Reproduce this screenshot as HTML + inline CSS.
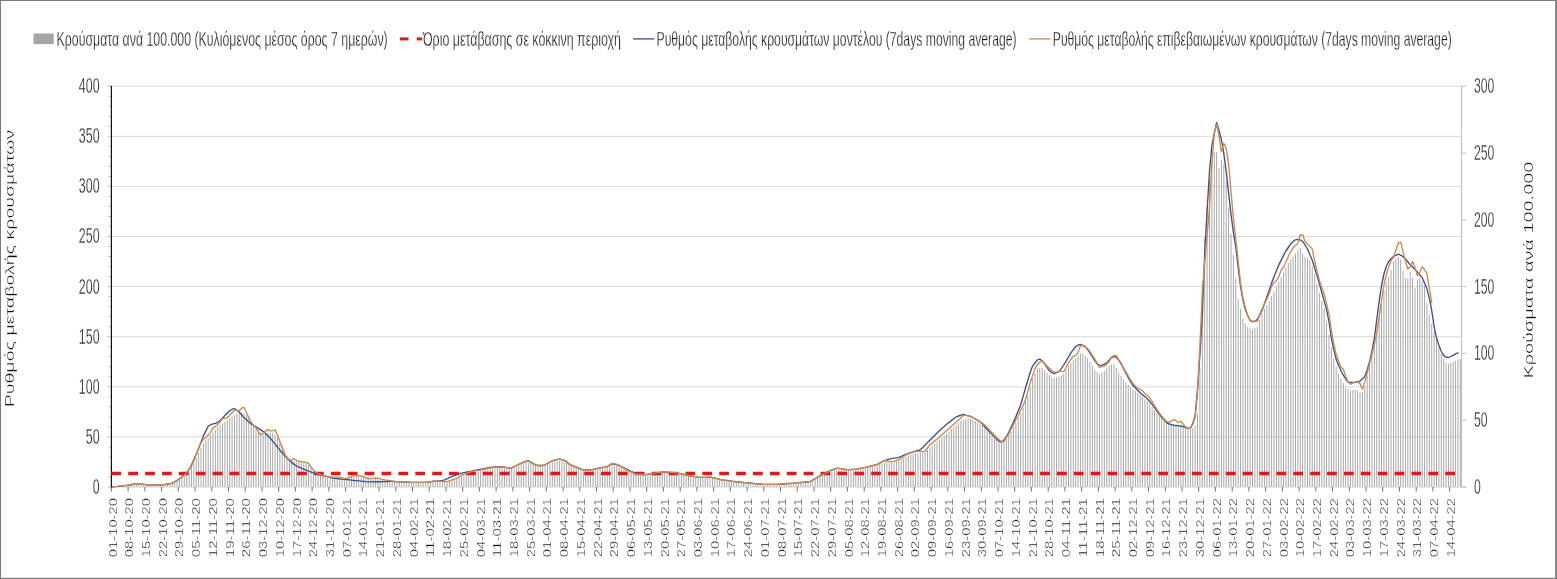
<!DOCTYPE html>
<html lang="el"><head><meta charset="utf-8"><title>Chart</title>
<style>html,body{margin:0;padding:0;background:#fff;}body{width:1557px;height:579px;overflow:hidden;}svg{display:block;}</style>
</head><body>
<svg width="1557" height="579" viewBox="0 0 1557 579" font-family='"Liberation Sans Narrow","Liberation Sans",sans-serif'>
<rect x="0" y="0" width="1557" height="579" fill="#fff"/>
<line x1="111.4" x2="1461.5" y1="436.9" y2="436.9" stroke="#d9d9d9" stroke-width="1"/>
<line x1="111.4" x2="1461.5" y1="386.8" y2="386.8" stroke="#d9d9d9" stroke-width="1"/>
<line x1="111.4" x2="1461.5" y1="336.7" y2="336.7" stroke="#d9d9d9" stroke-width="1"/>
<line x1="111.4" x2="1461.5" y1="286.6" y2="286.6" stroke="#d9d9d9" stroke-width="1"/>
<line x1="111.4" x2="1461.5" y1="236.5" y2="236.5" stroke="#d9d9d9" stroke-width="1"/>
<line x1="111.4" x2="1461.5" y1="186.4" y2="186.4" stroke="#d9d9d9" stroke-width="1"/>
<line x1="111.4" x2="1461.5" y1="136.3" y2="136.3" stroke="#d9d9d9" stroke-width="1"/>
<line x1="111.4" x2="1461.5" y1="86.2" y2="86.2" stroke="#d9d9d9" stroke-width="1"/>
<path d="M114.50,487V486.7h0.96V487zM116.89,487V486.5h0.96V487zM119.28,487V486.2h0.96V487zM121.67,487V486.0h0.96V487zM124.06,487V485.7h0.96V487zM126.45,487V485.4h0.96V487zM128.84,487V485.1h0.96V487zM131.23,487V484.8h0.96V487zM133.62,487V484.4h0.96V487zM136.01,487V484.2h0.96V487zM138.40,487V484.1h0.96V487zM140.79,487V484.2h0.96V487zM143.18,487V484.4h0.96V487zM145.57,487V484.6h0.96V487zM147.96,487V484.8h0.96V487zM150.35,487V484.9h0.96V487zM152.74,487V485.0h0.96V487zM155.13,487V485.0h0.96V487zM157.52,487V485.0h0.96V487zM159.91,487V484.9h0.96V487zM162.30,487V484.8h0.96V487zM164.69,487V484.6h0.96V487zM167.08,487V484.3h0.96V487zM169.47,487V483.8h0.96V487zM171.86,487V483.1h0.96V487zM174.25,487V482.2h0.96V487zM176.64,487V481.0h0.96V487zM179.03,487V479.6h0.96V487zM181.42,487V478.0h0.96V487zM183.81,487V476.0h0.96V487zM186.20,487V473.7h0.96V487zM188.59,487V470.8h0.96V487zM190.98,487V467.1h0.96V487zM193.37,487V462.7h0.96V487zM195.75,487V457.8h0.96V487zM198.14,487V452.5h0.96V487zM200.53,487V447.7h0.96V487zM202.92,487V443.7h0.96V487zM205.31,487V440.3h0.96V487zM207.70,487V437.4h0.96V487zM210.09,487V434.8h0.96V487zM212.48,487V432.4h0.96V487zM214.87,487V429.9h0.96V487zM217.26,487V427.2h0.96V487zM219.65,487V425.0h0.96V487zM222.04,487V423.4h0.96V487zM224.43,487V421.6h0.96V487zM226.82,487V419.9h0.96V487zM229.21,487V418.2h0.96V487zM231.60,487V416.6h0.96V487zM233.99,487V415.2h0.96V487zM236.38,487V413.8h0.96V487zM238.77,487V412.4h0.96V487zM241.16,487V412.3h0.96V487zM243.55,487V413.2h0.96V487zM245.94,487V415.0h0.96V487zM248.33,487V417.9h0.96V487zM250.72,487V421.8h0.96V487zM253.11,487V425.6h0.96V487zM255.50,487V429.1h0.96V487zM257.89,487V431.6h0.96V487zM260.28,487V433.1h0.96V487zM262.67,487V433.7h0.96V487zM265.06,487V433.7h0.96V487zM267.45,487V433.3h0.96V487zM269.84,487V432.7h0.96V487zM272.23,487V432.9h0.96V487zM274.62,487V434.7h0.96V487zM277.01,487V437.5h0.96V487zM279.39,487V441.4h0.96V487zM281.78,487V446.6h0.96V487zM284.17,487V451.6h0.96V487zM286.56,487V455.8h0.96V487zM288.95,487V458.5h0.96V487zM291.34,487V460.0h0.96V487zM293.73,487V460.8h0.96V487zM296.12,487V461.3h0.96V487zM298.51,487V461.6h0.96V487zM300.90,487V462.1h0.96V487zM303.29,487V462.8h0.96V487zM305.68,487V463.6h0.96V487zM308.07,487V465.0h0.96V487zM310.46,487V466.9h0.96V487zM312.85,487V469.0h0.96V487zM315.24,487V471.2h0.96V487zM317.63,487V473.1h0.96V487zM320.02,487V474.5h0.96V487zM322.41,487V475.4h0.96V487zM324.80,487V476.1h0.96V487zM327.19,487V476.6h0.96V487zM329.58,487V477.0h0.96V487zM331.97,487V477.2h0.96V487zM334.36,487V477.4h0.96V487zM336.75,487V477.5h0.96V487zM339.14,487V477.7h0.96V487zM341.53,487V477.9h0.96V487zM343.92,487V478.0h0.96V487zM346.31,487V478.0h0.96V487zM348.70,487V477.7h0.96V487zM351.09,487V477.2h0.96V487zM353.48,487V476.6h0.96V487zM355.87,487V476.3h0.96V487zM358.26,487V476.2h0.96V487zM360.65,487V476.4h0.96V487zM363.03,487V477.0h0.96V487zM365.42,487V477.5h0.96V487zM367.81,487V478.0h0.96V487zM370.20,487V478.3h0.96V487zM372.59,487V478.4h0.96V487zM374.98,487V478.5h0.96V487zM377.37,487V478.6h0.96V487zM379.76,487V478.9h0.96V487zM382.15,487V479.3h0.96V487zM384.54,487V479.8h0.96V487zM386.93,487V480.3h0.96V487zM389.32,487V480.7h0.96V487zM391.71,487V481.0h0.96V487zM394.10,487V481.4h0.96V487zM396.49,487V481.6h0.96V487zM398.88,487V481.9h0.96V487zM401.27,487V482.0h0.96V487zM403.66,487V482.1h0.96V487zM406.05,487V482.2h0.96V487zM408.44,487V482.3h0.96V487zM410.83,487V482.4h0.96V487zM413.22,487V482.5h0.96V487zM415.61,487V482.5h0.96V487zM418.00,487V482.6h0.96V487zM420.39,487V482.6h0.96V487zM422.78,487V482.5h0.96V487zM425.17,487V482.4h0.96V487zM427.56,487V482.2h0.96V487zM429.95,487V481.9h0.96V487zM432.34,487V481.6h0.96V487zM434.73,487V481.4h0.96V487zM437.12,487V481.3h0.96V487zM439.51,487V481.4h0.96V487zM441.90,487V481.5h0.96V487zM444.29,487V481.5h0.96V487zM446.67,487V481.4h0.96V487zM449.06,487V481.0h0.96V487zM451.45,487V480.5h0.96V487zM453.84,487V479.7h0.96V487zM456.23,487V478.7h0.96V487zM458.62,487V477.6h0.96V487zM461.01,487V476.5h0.96V487zM463.40,487V475.3h0.96V487zM465.79,487V474.3h0.96V487zM468.18,487V473.3h0.96V487zM470.57,487V472.6h0.96V487zM472.96,487V472.0h0.96V487zM475.35,487V471.5h0.96V487zM477.74,487V471.1h0.96V487zM480.13,487V470.7h0.96V487zM482.52,487V470.3h0.96V487zM484.91,487V469.9h0.96V487zM487.30,487V469.4h0.96V487zM489.69,487V468.9h0.96V487zM492.08,487V468.5h0.96V487zM494.47,487V468.2h0.96V487zM496.86,487V468.0h0.96V487zM499.25,487V467.8h0.96V487zM501.64,487V467.9h0.96V487zM504.03,487V468.0h0.96V487zM506.42,487V468.3h0.96V487zM508.81,487V468.3h0.96V487zM511.20,487V468.1h0.96V487zM513.59,487V467.6h0.96V487zM515.98,487V466.7h0.96V487zM518.37,487V465.6h0.96V487zM520.76,487V464.5h0.96V487zM523.15,487V463.5h0.96V487zM525.54,487V462.9h0.96V487zM527.93,487V462.7h0.96V487zM530.31,487V463.0h0.96V487zM532.70,487V463.8h0.96V487zM535.09,487V464.7h0.96V487zM537.48,487V465.5h0.96V487zM539.87,487V466.0h0.96V487zM542.26,487V465.9h0.96V487zM544.65,487V465.4h0.96V487zM547.04,487V464.6h0.96V487zM549.43,487V463.6h0.96V487zM551.82,487V462.5h0.96V487zM554.21,487V461.6h0.96V487zM556.60,487V461.0h0.96V487zM558.99,487V460.7h0.96V487zM561.38,487V460.8h0.96V487zM563.77,487V461.4h0.96V487zM566.16,487V462.5h0.96V487zM568.55,487V463.7h0.96V487zM570.94,487V465.0h0.96V487zM573.33,487V466.3h0.96V487zM575.72,487V467.4h0.96V487zM578.11,487V468.3h0.96V487zM580.50,487V469.1h0.96V487zM582.89,487V469.7h0.96V487zM585.28,487V470.2h0.96V487zM587.67,487V470.4h0.96V487zM590.06,487V470.2h0.96V487zM592.45,487V470.0h0.96V487zM594.84,487V469.7h0.96V487zM597.23,487V469.3h0.96V487zM599.62,487V468.8h0.96V487zM602.01,487V468.4h0.96V487zM604.40,487V467.8h0.96V487zM606.79,487V467.0h0.96V487zM609.18,487V466.2h0.96V487zM611.57,487V465.6h0.96V487zM613.95,487V465.2h0.96V487zM616.34,487V465.4h0.96V487zM618.73,487V466.1h0.96V487zM621.12,487V467.2h0.96V487zM623.51,487V468.5h0.96V487zM625.90,487V469.8h0.96V487zM628.29,487V471.0h0.96V487zM630.68,487V472.2h0.96V487zM633.07,487V473.1h0.96V487zM635.46,487V473.9h0.96V487zM637.85,487V474.4h0.96V487zM640.24,487V474.7h0.96V487zM642.63,487V474.8h0.96V487zM645.02,487V474.8h0.96V487zM647.41,487V474.7h0.96V487zM649.80,487V474.5h0.96V487zM652.19,487V474.1h0.96V487zM654.58,487V473.7h0.96V487zM656.97,487V473.4h0.96V487zM659.36,487V473.0h0.96V487zM661.75,487V472.7h0.96V487zM664.14,487V472.6h0.96V487zM666.53,487V472.5h0.96V487zM668.92,487V472.6h0.96V487zM671.31,487V472.8h0.96V487zM673.70,487V473.1h0.96V487zM676.09,487V473.4h0.96V487zM678.48,487V473.8h0.96V487zM680.87,487V474.2h0.96V487zM683.26,487V474.7h0.96V487zM685.65,487V475.2h0.96V487zM688.04,487V475.7h0.96V487zM690.43,487V476.2h0.96V487zM692.82,487V476.6h0.96V487zM695.21,487V476.9h0.96V487zM697.59,487V477.2h0.96V487zM699.98,487V477.4h0.96V487zM702.37,487V477.6h0.96V487zM704.76,487V477.6h0.96V487zM707.15,487V477.6h0.96V487zM709.54,487V477.7h0.96V487zM711.93,487V477.9h0.96V487zM714.32,487V478.3h0.96V487zM716.71,487V478.8h0.96V487zM719.10,487V479.3h0.96V487zM721.49,487V479.8h0.96V487zM723.88,487V480.2h0.96V487zM726.27,487V480.6h0.96V487zM728.66,487V481.0h0.96V487zM731.05,487V481.4h0.96V487zM733.44,487V481.7h0.96V487zM735.83,487V481.9h0.96V487zM738.22,487V482.2h0.96V487zM740.61,487V482.4h0.96V487zM743.00,487V482.6h0.96V487zM745.39,487V482.8h0.96V487zM747.78,487V483.0h0.96V487zM750.17,487V483.2h0.96V487zM752.56,487V483.4h0.96V487zM754.95,487V483.6h0.96V487zM757.34,487V483.8h0.96V487zM759.73,487V484.0h0.96V487zM762.12,487V484.2h0.96V487zM764.51,487V484.3h0.96V487zM766.90,487V484.3h0.96V487zM769.29,487V484.4h0.96V487zM771.68,487V484.4h0.96V487zM774.07,487V484.4h0.96V487zM776.46,487V484.3h0.96V487zM778.85,487V484.2h0.96V487zM781.23,487V484.1h0.96V487zM783.62,487V484.0h0.96V487zM786.01,487V483.9h0.96V487zM788.40,487V483.7h0.96V487zM790.79,487V483.5h0.96V487zM793.18,487V483.3h0.96V487zM795.57,487V483.1h0.96V487zM797.96,487V482.9h0.96V487zM800.35,487V482.7h0.96V487zM802.74,487V482.5h0.96V487zM805.13,487V482.3h0.96V487zM807.52,487V481.9h0.96V487zM809.91,487V481.3h0.96V487zM812.30,487V480.4h0.96V487zM814.69,487V479.4h0.96V487zM817.08,487V478.1h0.96V487zM819.47,487V476.8h0.96V487zM821.86,487V475.6h0.96V487zM824.25,487V474.4h0.96V487zM826.64,487V473.3h0.96V487zM829.03,487V472.2h0.96V487zM831.42,487V471.2h0.96V487zM833.81,487V470.3h0.96V487zM836.20,487V469.8h0.96V487zM838.59,487V469.5h0.96V487zM840.98,487V469.4h0.96V487zM843.37,487V469.6h0.96V487zM845.76,487V469.8h0.96V487zM848.15,487V470.0h0.96V487zM850.54,487V470.0h0.96V487zM852.93,487V470.0h0.96V487zM855.32,487V469.8h0.96V487zM857.71,487V469.5h0.96V487zM860.10,487V469.2h0.96V487zM862.49,487V468.7h0.96V487zM864.87,487V468.2h0.96V487zM867.26,487V467.7h0.96V487zM869.65,487V467.1h0.96V487zM872.04,487V466.6h0.96V487zM874.43,487V465.9h0.96V487zM876.82,487V465.1h0.96V487zM879.21,487V464.2h0.96V487zM881.60,487V463.4h0.96V487zM883.99,487V462.7h0.96V487zM886.38,487V462.3h0.96V487zM888.77,487V462.2h0.96V487zM891.16,487V462.1h0.96V487zM893.55,487V461.9h0.96V487zM895.94,487V461.5h0.96V487zM898.33,487V460.7h0.96V487zM900.72,487V459.5h0.96V487zM903.11,487V458.2h0.96V487zM905.50,487V456.9h0.96V487zM907.89,487V455.6h0.96V487zM910.28,487V454.5h0.96V487zM912.67,487V453.7h0.96V487zM915.06,487V453.2h0.96V487zM917.45,487V452.8h0.96V487zM919.84,487V452.6h0.96V487zM922.23,487V452.2h0.96V487zM924.62,487V451.2h0.96V487zM927.01,487V449.7h0.96V487zM929.40,487V447.9h0.96V487zM931.79,487V445.7h0.96V487zM934.18,487V443.5h0.96V487zM936.57,487V441.5h0.96V487zM938.96,487V439.6h0.96V487zM941.35,487V437.6h0.96V487zM943.74,487V435.5h0.96V487zM946.13,487V433.4h0.96V487zM948.51,487V431.4h0.96V487zM950.90,487V429.3h0.96V487zM953.29,487V427.2h0.96V487zM955.68,487V425.2h0.96V487zM958.07,487V423.1h0.96V487zM960.46,487V421.1h0.96V487zM962.85,487V419.7h0.96V487zM965.24,487V418.8h0.96V487zM967.63,487V418.5h0.96V487zM970.02,487V419.0h0.96V487zM972.41,487V419.8h0.96V487zM974.80,487V420.9h0.96V487zM977.19,487V422.2h0.96V487zM979.58,487V423.6h0.96V487zM981.97,487V425.1h0.96V487zM984.36,487V426.9h0.96V487zM986.75,487V428.9h0.96V487zM989.14,487V431.1h0.96V487zM991.53,487V433.5h0.96V487zM993.92,487V435.9h0.96V487zM996.31,487V438.3h0.96V487zM998.70,487V440.3h0.96V487zM1001.09,487V441.3h0.96V487zM1003.48,487V440.4h0.96V487zM1005.87,487V437.9h0.96V487zM1008.26,487V434.8h0.96V487zM1010.65,487V432.1h0.96V487zM1013.04,487V427.3h0.96V487zM1015.43,487V422.5h0.96V487zM1017.82,487V417.7h0.96V487zM1020.21,487V413.0h0.96V487zM1022.60,487V407.2h0.96V487zM1024.99,487V401.5h0.96V487zM1027.38,487V395.5h0.96V487zM1029.77,487V387.2h0.96V487zM1032.15,487V378.8h0.96V487zM1034.54,487V373.2h0.96V487zM1036.93,487V368.6h0.96V487zM1039.32,487V367.9h0.96V487zM1041.71,487V368.0h0.96V487zM1044.10,487V370.4h0.96V487zM1046.49,487V372.8h0.96V487zM1048.88,487V375.2h0.96V487zM1051.27,487V377.6h0.96V487zM1053.66,487V377.9h0.96V487zM1056.05,487V377.3h0.96V487zM1058.44,487V376.5h0.96V487zM1060.83,487V375.3h0.96V487zM1063.22,487V374.0h0.96V487zM1065.61,487V369.8h0.96V487zM1068.00,487V365.6h0.96V487zM1070.39,487V362.7h0.96V487zM1072.78,487V360.4h0.96V487zM1075.17,487V358.0h0.96V487zM1077.56,487V355.6h0.96V487zM1079.95,487V353.5h0.96V487zM1082.34,487V353.5h0.96V487zM1084.73,487V355.8h0.96V487zM1087.12,487V358.2h0.96V487zM1089.51,487V361.8h0.96V487zM1091.90,487V365.9h0.96V487zM1094.29,487V369.5h0.96V487zM1096.68,487V371.9h0.96V487zM1099.07,487V374.2h0.96V487zM1101.46,487V372.4h0.96V487zM1103.85,487V370.6h0.96V487zM1106.24,487V368.3h0.96V487zM1108.63,487V366.0h0.96V487zM1111.02,487V364.5h0.96V487zM1113.41,487V364.5h0.96V487zM1115.79,487V367.7h0.96V487zM1118.18,487V372.5h0.96V487zM1120.57,487V376.0h0.96V487zM1122.96,487V379.3h0.96V487zM1125.35,487V382.3h0.96V487zM1127.74,487V385.0h0.96V487zM1130.13,487V387.5h0.96V487zM1132.52,487V389.4h0.96V487zM1134.91,487V391.3h0.96V487zM1137.30,487V393.3h0.96V487zM1139.69,487V395.2h0.96V487zM1142.08,487V397.2h0.96V487zM1144.47,487V399.2h0.96V487zM1146.86,487V401.5h0.96V487zM1149.25,487V404.3h0.96V487zM1151.64,487V407.1h0.96V487zM1154.03,487V409.9h0.96V487zM1156.42,487V412.7h0.96V487zM1158.81,487V415.4h0.96V487zM1161.20,487V418.2h0.96V487zM1163.59,487V420.4h0.96V487zM1165.98,487V421.7h0.96V487zM1168.37,487V423.1h0.96V487zM1170.76,487V424.5h0.96V487zM1173.15,487V424.7h0.96V487zM1175.54,487V424.8h0.96V487zM1177.93,487V425.0h0.96V487zM1180.32,487V425.5h0.96V487zM1182.71,487V426.5h0.96V487zM1185.10,487V427.4h0.96V487zM1187.49,487V428.4h0.96V487zM1189.88,487V428.8h0.96V487zM1192.27,487V427.9h0.96V487zM1194.66,487V425.8h0.96V487zM1197.05,487V413.3h0.96V487zM1199.43,487V368.5h0.96V487zM1201.82,487V280.9h0.96V487zM1204.21,487V237.7h0.96V487zM1206.60,487V206.0h0.96V487zM1208.99,487V178.1h0.96V487zM1211.38,487V161.4h0.96V487zM1213.77,487V151.7h0.96V487zM1216.16,487V152.1h0.96V487zM1218.55,487V168.2h0.96V487zM1220.94,487V160.2h0.96V487zM1223.33,487V164.7h0.96V487zM1225.72,487V181.1h0.96V487zM1228.11,487V207.2h0.96V487zM1230.50,487V233.7h0.96V487zM1232.89,487V254.9h0.96V487zM1235.28,487V278.3h0.96V487zM1237.67,487V299.3h0.96V487zM1240.06,487V309.1h0.96V487zM1242.45,487V318.6h0.96V487zM1244.84,487V323.3h0.96V487zM1247.23,487V327.0h0.96V487zM1249.62,487V328.5h0.96V487zM1252.01,487V329.4h0.96V487zM1254.40,487V328.0h0.96V487zM1256.79,487V326.7h0.96V487zM1259.18,487V320.1h0.96V487zM1261.57,487V313.3h0.96V487zM1263.96,487V308.8h0.96V487zM1266.35,487V304.9h0.96V487zM1268.74,487V300.9h0.96V487zM1271.13,487V296.1h0.96V487zM1273.52,487V291.3h0.96V487zM1275.91,487V286.6h0.96V487zM1278.30,487V281.8h0.96V487zM1280.69,487V277.1h0.96V487zM1283.07,487V272.2h0.96V487zM1285.46,487V267.4h0.96V487zM1287.85,487V263.1h0.96V487zM1290.24,487V259.9h0.96V487zM1292.63,487V256.7h0.96V487zM1295.02,487V253.2h0.96V487zM1297.41,487V249.8h0.96V487zM1299.80,487V248.0h0.96V487zM1302.19,487V253.2h0.96V487zM1304.58,487V256.7h0.96V487zM1306.97,487V258.3h0.96V487zM1309.36,487V260.0h0.96V487zM1311.75,487V266.2h0.96V487zM1314.14,487V273.6h0.96V487zM1316.53,487V283.3h0.96V487zM1318.92,487V293.0h0.96V487zM1321.31,487V300.7h0.96V487zM1323.70,487V308.3h0.96V487zM1326.09,487V321.4h0.96V487zM1328.48,487V334.4h0.96V487zM1330.87,487V347.0h0.96V487zM1333.26,487V358.7h0.96V487zM1335.65,487V366.4h0.96V487zM1338.04,487V374.0h0.96V487zM1340.43,487V378.5h0.96V487zM1342.82,487V382.9h0.96V487zM1345.21,487V387.4h0.96V487zM1347.60,487V389.1h0.96V487zM1349.99,487V390.4h0.96V487zM1352.38,487V390.0h0.96V487zM1354.77,487V389.5h0.96V487zM1357.16,487V390.7h0.96V487zM1359.55,487V392.6h0.96V487zM1361.94,487V391.7h0.96V487zM1364.33,487V386.6h0.96V487zM1366.71,487V375.7h0.96V487zM1369.10,487V364.4h0.96V487zM1371.49,487V352.6h0.96V487zM1373.88,487V341.5h0.96V487zM1376.27,487V330.6h0.96V487zM1378.66,487V316.9h0.96V487zM1381.05,487V303.7h0.96V487zM1383.44,487V290.8h0.96V487zM1385.83,487V282.0h0.96V487zM1388.22,487V276.4h0.96V487zM1390.61,487V269.8h0.96V487zM1393.00,487V261.2h0.96V487zM1395.39,487V258.1h0.96V487zM1397.78,487V256.8h0.96V487zM1400.17,487V259.4h0.96V487zM1402.56,487V271.0h0.96V487zM1404.95,487V278.0h0.96V487zM1407.34,487V278.2h0.96V487zM1409.73,487V272.1h0.96V487zM1412.12,487V278.0h0.96V487zM1414.51,487V288.2h0.96V487zM1416.90,487V279.8h0.96V487zM1419.29,487V277.8h0.96V487zM1421.68,487V281.2h0.96V487zM1424.07,487V285.4h0.96V487zM1426.46,487V303.1h0.96V487zM1428.85,487V314.7h0.96V487zM1431.24,487V324.1h0.96V487zM1433.63,487V331.2h0.96V487zM1436.02,487V338.7h0.96V487zM1438.41,487V347.1h0.96V487zM1440.80,487V354.0h0.96V487zM1443.19,487V359.1h0.96V487zM1445.58,487V362.7h0.96V487zM1447.97,487V364.0h0.96V487zM1450.35,487V362.8h0.96V487zM1452.74,487V361.6h0.96V487zM1455.13,487V360.4h0.96V487zM1457.52,487V359.3h0.96V487zM1459.91,487V359.0h0.96V487z" fill="#a5a5a5"/>
<line x1="111.4" x2="1466" y1="487.0" y2="487.0" stroke="#d0d0d0" stroke-width="1"/>
<line x1="107.4" x2="111.4" y1="487.0" y2="487.0" stroke="#bfbfbf" stroke-width="1"/>
<line x1="108.4" x2="111.4" y1="477.0" y2="477.0" stroke="#bfbfbf" stroke-width="1"/>
<line x1="108.4" x2="111.4" y1="467.0" y2="467.0" stroke="#bfbfbf" stroke-width="1"/>
<line x1="108.4" x2="111.4" y1="456.9" y2="456.9" stroke="#bfbfbf" stroke-width="1"/>
<line x1="108.4" x2="111.4" y1="446.9" y2="446.9" stroke="#bfbfbf" stroke-width="1"/>
<line x1="107.4" x2="111.4" y1="436.9" y2="436.9" stroke="#bfbfbf" stroke-width="1"/>
<line x1="108.4" x2="111.4" y1="426.9" y2="426.9" stroke="#bfbfbf" stroke-width="1"/>
<line x1="108.4" x2="111.4" y1="416.9" y2="416.9" stroke="#bfbfbf" stroke-width="1"/>
<line x1="108.4" x2="111.4" y1="406.8" y2="406.8" stroke="#bfbfbf" stroke-width="1"/>
<line x1="108.4" x2="111.4" y1="396.8" y2="396.8" stroke="#bfbfbf" stroke-width="1"/>
<line x1="107.4" x2="111.4" y1="386.8" y2="386.8" stroke="#bfbfbf" stroke-width="1"/>
<line x1="108.4" x2="111.4" y1="376.8" y2="376.8" stroke="#bfbfbf" stroke-width="1"/>
<line x1="108.4" x2="111.4" y1="366.8" y2="366.8" stroke="#bfbfbf" stroke-width="1"/>
<line x1="108.4" x2="111.4" y1="356.7" y2="356.7" stroke="#bfbfbf" stroke-width="1"/>
<line x1="108.4" x2="111.4" y1="346.7" y2="346.7" stroke="#bfbfbf" stroke-width="1"/>
<line x1="107.4" x2="111.4" y1="336.7" y2="336.7" stroke="#bfbfbf" stroke-width="1"/>
<line x1="108.4" x2="111.4" y1="326.7" y2="326.7" stroke="#bfbfbf" stroke-width="1"/>
<line x1="108.4" x2="111.4" y1="316.7" y2="316.7" stroke="#bfbfbf" stroke-width="1"/>
<line x1="108.4" x2="111.4" y1="306.6" y2="306.6" stroke="#bfbfbf" stroke-width="1"/>
<line x1="108.4" x2="111.4" y1="296.6" y2="296.6" stroke="#bfbfbf" stroke-width="1"/>
<line x1="107.4" x2="111.4" y1="286.6" y2="286.6" stroke="#bfbfbf" stroke-width="1"/>
<line x1="108.4" x2="111.4" y1="276.6" y2="276.6" stroke="#bfbfbf" stroke-width="1"/>
<line x1="108.4" x2="111.4" y1="266.6" y2="266.6" stroke="#bfbfbf" stroke-width="1"/>
<line x1="108.4" x2="111.4" y1="256.5" y2="256.5" stroke="#bfbfbf" stroke-width="1"/>
<line x1="108.4" x2="111.4" y1="246.5" y2="246.5" stroke="#bfbfbf" stroke-width="1"/>
<line x1="107.4" x2="111.4" y1="236.5" y2="236.5" stroke="#bfbfbf" stroke-width="1"/>
<line x1="108.4" x2="111.4" y1="226.5" y2="226.5" stroke="#bfbfbf" stroke-width="1"/>
<line x1="108.4" x2="111.4" y1="216.5" y2="216.5" stroke="#bfbfbf" stroke-width="1"/>
<line x1="108.4" x2="111.4" y1="206.4" y2="206.4" stroke="#bfbfbf" stroke-width="1"/>
<line x1="108.4" x2="111.4" y1="196.4" y2="196.4" stroke="#bfbfbf" stroke-width="1"/>
<line x1="107.4" x2="111.4" y1="186.4" y2="186.4" stroke="#bfbfbf" stroke-width="1"/>
<line x1="108.4" x2="111.4" y1="176.4" y2="176.4" stroke="#bfbfbf" stroke-width="1"/>
<line x1="108.4" x2="111.4" y1="166.4" y2="166.4" stroke="#bfbfbf" stroke-width="1"/>
<line x1="108.4" x2="111.4" y1="156.3" y2="156.3" stroke="#bfbfbf" stroke-width="1"/>
<line x1="108.4" x2="111.4" y1="146.3" y2="146.3" stroke="#bfbfbf" stroke-width="1"/>
<line x1="107.4" x2="111.4" y1="136.3" y2="136.3" stroke="#bfbfbf" stroke-width="1"/>
<line x1="108.4" x2="111.4" y1="126.3" y2="126.3" stroke="#bfbfbf" stroke-width="1"/>
<line x1="108.4" x2="111.4" y1="116.3" y2="116.3" stroke="#bfbfbf" stroke-width="1"/>
<line x1="108.4" x2="111.4" y1="106.2" y2="106.2" stroke="#bfbfbf" stroke-width="1"/>
<line x1="108.4" x2="111.4" y1="96.2" y2="96.2" stroke="#bfbfbf" stroke-width="1"/>
<line x1="107.4" x2="111.4" y1="86.2" y2="86.2" stroke="#bfbfbf" stroke-width="1"/>
<line x1="1461.5" x2="1461.5" y1="86.2" y2="487.0" stroke="#c4c4c4" stroke-width="1.2"/>
<line x1="1461.5" x2="1466.2" y1="487.0" y2="487.0" stroke="#c4c4c4" stroke-width="1"/>
<line x1="1461.5" x2="1466.2" y1="420.2" y2="420.2" stroke="#c4c4c4" stroke-width="1"/>
<line x1="1461.5" x2="1466.2" y1="353.4" y2="353.4" stroke="#c4c4c4" stroke-width="1"/>
<line x1="1461.5" x2="1466.2" y1="286.6" y2="286.6" stroke="#c4c4c4" stroke-width="1"/>
<line x1="1461.5" x2="1466.2" y1="219.8" y2="219.8" stroke="#c4c4c4" stroke-width="1"/>
<line x1="1461.5" x2="1466.2" y1="153.0" y2="153.0" stroke="#c4c4c4" stroke-width="1"/>
<line x1="1461.5" x2="1466.2" y1="86.2" y2="86.2" stroke="#c4c4c4" stroke-width="1"/>
<line x1="111.4" x2="111.4" y1="487.0" y2="491.5" stroke="#707070" stroke-width="1"/>
<line x1="128.1" x2="128.1" y1="487.0" y2="491.5" stroke="#707070" stroke-width="1"/>
<line x1="144.9" x2="144.9" y1="487.0" y2="491.5" stroke="#707070" stroke-width="1"/>
<line x1="161.6" x2="161.6" y1="487.0" y2="491.5" stroke="#707070" stroke-width="1"/>
<line x1="178.3" x2="178.3" y1="487.0" y2="491.5" stroke="#707070" stroke-width="1"/>
<line x1="195.0" x2="195.0" y1="487.0" y2="491.5" stroke="#707070" stroke-width="1"/>
<line x1="211.8" x2="211.8" y1="487.0" y2="491.5" stroke="#707070" stroke-width="1"/>
<line x1="228.5" x2="228.5" y1="487.0" y2="491.5" stroke="#707070" stroke-width="1"/>
<line x1="245.2" x2="245.2" y1="487.0" y2="491.5" stroke="#707070" stroke-width="1"/>
<line x1="262.0" x2="262.0" y1="487.0" y2="491.5" stroke="#707070" stroke-width="1"/>
<line x1="278.7" x2="278.7" y1="487.0" y2="491.5" stroke="#707070" stroke-width="1"/>
<line x1="295.4" x2="295.4" y1="487.0" y2="491.5" stroke="#707070" stroke-width="1"/>
<line x1="312.1" x2="312.1" y1="487.0" y2="491.5" stroke="#707070" stroke-width="1"/>
<line x1="328.9" x2="328.9" y1="487.0" y2="491.5" stroke="#707070" stroke-width="1"/>
<line x1="345.6" x2="345.6" y1="487.0" y2="491.5" stroke="#707070" stroke-width="1"/>
<line x1="362.3" x2="362.3" y1="487.0" y2="491.5" stroke="#707070" stroke-width="1"/>
<line x1="379.0" x2="379.0" y1="487.0" y2="491.5" stroke="#707070" stroke-width="1"/>
<line x1="395.8" x2="395.8" y1="487.0" y2="491.5" stroke="#707070" stroke-width="1"/>
<line x1="412.5" x2="412.5" y1="487.0" y2="491.5" stroke="#707070" stroke-width="1"/>
<line x1="429.2" x2="429.2" y1="487.0" y2="491.5" stroke="#707070" stroke-width="1"/>
<line x1="446.0" x2="446.0" y1="487.0" y2="491.5" stroke="#707070" stroke-width="1"/>
<line x1="462.7" x2="462.7" y1="487.0" y2="491.5" stroke="#707070" stroke-width="1"/>
<line x1="479.4" x2="479.4" y1="487.0" y2="491.5" stroke="#707070" stroke-width="1"/>
<line x1="496.1" x2="496.1" y1="487.0" y2="491.5" stroke="#707070" stroke-width="1"/>
<line x1="512.9" x2="512.9" y1="487.0" y2="491.5" stroke="#707070" stroke-width="1"/>
<line x1="529.6" x2="529.6" y1="487.0" y2="491.5" stroke="#707070" stroke-width="1"/>
<line x1="546.3" x2="546.3" y1="487.0" y2="491.5" stroke="#707070" stroke-width="1"/>
<line x1="563.1" x2="563.1" y1="487.0" y2="491.5" stroke="#707070" stroke-width="1"/>
<line x1="579.8" x2="579.8" y1="487.0" y2="491.5" stroke="#707070" stroke-width="1"/>
<line x1="596.5" x2="596.5" y1="487.0" y2="491.5" stroke="#707070" stroke-width="1"/>
<line x1="613.2" x2="613.2" y1="487.0" y2="491.5" stroke="#707070" stroke-width="1"/>
<line x1="630.0" x2="630.0" y1="487.0" y2="491.5" stroke="#707070" stroke-width="1"/>
<line x1="646.7" x2="646.7" y1="487.0" y2="491.5" stroke="#707070" stroke-width="1"/>
<line x1="663.4" x2="663.4" y1="487.0" y2="491.5" stroke="#707070" stroke-width="1"/>
<line x1="680.2" x2="680.2" y1="487.0" y2="491.5" stroke="#707070" stroke-width="1"/>
<line x1="696.9" x2="696.9" y1="487.0" y2="491.5" stroke="#707070" stroke-width="1"/>
<line x1="713.6" x2="713.6" y1="487.0" y2="491.5" stroke="#707070" stroke-width="1"/>
<line x1="730.3" x2="730.3" y1="487.0" y2="491.5" stroke="#707070" stroke-width="1"/>
<line x1="747.1" x2="747.1" y1="487.0" y2="491.5" stroke="#707070" stroke-width="1"/>
<line x1="763.8" x2="763.8" y1="487.0" y2="491.5" stroke="#707070" stroke-width="1"/>
<line x1="780.5" x2="780.5" y1="487.0" y2="491.5" stroke="#707070" stroke-width="1"/>
<line x1="797.2" x2="797.2" y1="487.0" y2="491.5" stroke="#707070" stroke-width="1"/>
<line x1="814.0" x2="814.0" y1="487.0" y2="491.5" stroke="#707070" stroke-width="1"/>
<line x1="830.7" x2="830.7" y1="487.0" y2="491.5" stroke="#707070" stroke-width="1"/>
<line x1="847.4" x2="847.4" y1="487.0" y2="491.5" stroke="#707070" stroke-width="1"/>
<line x1="864.2" x2="864.2" y1="487.0" y2="491.5" stroke="#707070" stroke-width="1"/>
<line x1="880.9" x2="880.9" y1="487.0" y2="491.5" stroke="#707070" stroke-width="1"/>
<line x1="897.6" x2="897.6" y1="487.0" y2="491.5" stroke="#707070" stroke-width="1"/>
<line x1="914.3" x2="914.3" y1="487.0" y2="491.5" stroke="#707070" stroke-width="1"/>
<line x1="931.1" x2="931.1" y1="487.0" y2="491.5" stroke="#707070" stroke-width="1"/>
<line x1="947.8" x2="947.8" y1="487.0" y2="491.5" stroke="#707070" stroke-width="1"/>
<line x1="964.5" x2="964.5" y1="487.0" y2="491.5" stroke="#707070" stroke-width="1"/>
<line x1="981.3" x2="981.3" y1="487.0" y2="491.5" stroke="#707070" stroke-width="1"/>
<line x1="998.0" x2="998.0" y1="487.0" y2="491.5" stroke="#707070" stroke-width="1"/>
<line x1="1014.7" x2="1014.7" y1="487.0" y2="491.5" stroke="#707070" stroke-width="1"/>
<line x1="1031.4" x2="1031.4" y1="487.0" y2="491.5" stroke="#707070" stroke-width="1"/>
<line x1="1048.2" x2="1048.2" y1="487.0" y2="491.5" stroke="#707070" stroke-width="1"/>
<line x1="1064.9" x2="1064.9" y1="487.0" y2="491.5" stroke="#707070" stroke-width="1"/>
<line x1="1081.6" x2="1081.6" y1="487.0" y2="491.5" stroke="#707070" stroke-width="1"/>
<line x1="1098.4" x2="1098.4" y1="487.0" y2="491.5" stroke="#707070" stroke-width="1"/>
<line x1="1115.1" x2="1115.1" y1="487.0" y2="491.5" stroke="#707070" stroke-width="1"/>
<line x1="1131.8" x2="1131.8" y1="487.0" y2="491.5" stroke="#707070" stroke-width="1"/>
<line x1="1148.5" x2="1148.5" y1="487.0" y2="491.5" stroke="#707070" stroke-width="1"/>
<line x1="1165.3" x2="1165.3" y1="487.0" y2="491.5" stroke="#707070" stroke-width="1"/>
<line x1="1182.0" x2="1182.0" y1="487.0" y2="491.5" stroke="#707070" stroke-width="1"/>
<line x1="1198.7" x2="1198.7" y1="487.0" y2="491.5" stroke="#707070" stroke-width="1"/>
<line x1="1215.4" x2="1215.4" y1="487.0" y2="491.5" stroke="#707070" stroke-width="1"/>
<line x1="1232.2" x2="1232.2" y1="487.0" y2="491.5" stroke="#707070" stroke-width="1"/>
<line x1="1248.9" x2="1248.9" y1="487.0" y2="491.5" stroke="#707070" stroke-width="1"/>
<line x1="1265.6" x2="1265.6" y1="487.0" y2="491.5" stroke="#707070" stroke-width="1"/>
<line x1="1282.4" x2="1282.4" y1="487.0" y2="491.5" stroke="#707070" stroke-width="1"/>
<line x1="1299.1" x2="1299.1" y1="487.0" y2="491.5" stroke="#707070" stroke-width="1"/>
<line x1="1315.8" x2="1315.8" y1="487.0" y2="491.5" stroke="#707070" stroke-width="1"/>
<line x1="1332.5" x2="1332.5" y1="487.0" y2="491.5" stroke="#707070" stroke-width="1"/>
<line x1="1349.3" x2="1349.3" y1="487.0" y2="491.5" stroke="#707070" stroke-width="1"/>
<line x1="1366.0" x2="1366.0" y1="487.0" y2="491.5" stroke="#707070" stroke-width="1"/>
<line x1="1382.7" x2="1382.7" y1="487.0" y2="491.5" stroke="#707070" stroke-width="1"/>
<line x1="1399.5" x2="1399.5" y1="487.0" y2="491.5" stroke="#707070" stroke-width="1"/>
<line x1="1416.2" x2="1416.2" y1="487.0" y2="491.5" stroke="#707070" stroke-width="1"/>
<line x1="1432.9" x2="1432.9" y1="487.0" y2="491.5" stroke="#707070" stroke-width="1"/>
<line x1="1449.6" x2="1449.6" y1="487.0" y2="491.5" stroke="#707070" stroke-width="1"/>
<line x1="111.4" x2="111.4" y1="85.7" y2="487.5" stroke="#111" stroke-width="1.2"/>
<line x1="111.4" x2="1455.2" y1="473.5" y2="473.5" stroke="#e0171d" stroke-width="3.5" stroke-dasharray="9.7 7.185"/>
<path d="M112.6,486.9 L115.0,486.6 L117.4,486.4 L119.8,486.1 L122.2,485.8 L124.5,485.6 L126.9,485.3 L129.3,485.0 L131.7,484.5 L134.1,484.1 L136.5,483.7 L138.9,483.8 L141.3,484.1 L143.7,484.4 L146.1,484.7 L148.4,484.9 L150.8,484.9 L153.2,484.9 L155.6,484.9 L158.0,484.9 L160.4,484.9 L162.8,484.8 L165.2,484.4 L167.6,484.0 L169.9,483.6 L172.3,483.2 L174.7,481.8 L177.1,480.4 L179.5,478.8 L181.9,476.7 L184.3,474.6 L186.7,472.4 L189.1,469.5 L191.5,464.7 L193.8,459.8 L196.2,454.3 L198.6,448.6 L201.0,442.2 L203.4,435.9 L205.8,431.1 L208.2,426.3 L210.6,424.8 L213.0,423.9 L215.4,423.4 L217.7,422.3 L220.1,420.5 L222.5,418.3 L224.9,415.5 L227.3,413.0 L229.7,410.8 L232.1,409.2 L234.5,408.6 L236.9,410.3 L239.2,412.1 L241.6,414.8 L244.0,417.6 L246.4,419.8 L248.8,421.9 L251.2,423.9 L253.6,425.4 L256.0,426.9 L258.4,428.4 L260.8,429.9 L263.1,431.3 L265.5,433.4 L267.9,435.8 L270.3,438.2 L272.7,441.1 L275.1,444.1 L277.5,447.1 L279.9,450.1 L282.3,453.0 L284.7,455.8 L287.0,458.2 L289.4,460.6 L291.8,462.6 L294.2,464.4 L296.6,466.2 L299.0,467.2 L301.4,468.2 L303.8,469.1 L306.2,470.1 L308.6,471.0 L310.9,472.0 L313.3,472.9 L315.7,473.7 L318.1,474.4 L320.5,475.1 L322.9,475.7 L325.3,476.1 L327.7,476.6 L330.1,477.2 L332.4,478.2 L334.8,478.4 L337.2,478.7 L339.6,479.0 L342.0,479.1 L344.4,479.3 L346.8,479.5 L349.2,479.8 L351.6,480.1 L354.0,480.5 L356.3,480.7 L358.7,480.9 L361.1,481.1 L363.5,481.3 L365.9,481.6 L368.3,481.8 L370.7,481.8 L373.1,481.7 L375.5,481.7 L377.9,481.7 L380.2,481.7 L382.6,481.6 L385.0,481.6 L387.4,481.5 L389.8,481.4 L392.2,481.4 L394.6,481.5 L397.0,481.7 L399.4,481.8 L401.8,481.9 L404.1,482.0 L406.5,482.1 L408.9,482.2 L411.3,482.3 L413.7,482.4 L416.1,482.4 L418.5,482.4 L420.9,482.4 L423.3,482.4 L425.6,482.4 L428.0,482.1 L430.4,481.8 L432.8,481.4 L435.2,481.1 L437.6,480.9 L440.0,480.6 L442.4,480.3 L444.8,479.8 L447.2,478.7 L449.5,477.6 L451.9,476.6 L454.3,475.6 L456.7,474.8 L459.1,474.0 L461.5,473.2 L463.9,472.6 L466.3,472.1 L468.7,471.6 L471.1,471.2 L473.4,470.7 L475.8,470.2 L478.2,469.7 L480.6,469.2 L483.0,468.8 L485.4,468.3 L487.8,467.9 L490.2,467.5 L492.6,467.1 L494.9,467.0 L497.3,467.0 L499.7,467.0 L502.1,467.0 L504.5,467.1 L506.9,467.7 L509.3,468.3 L511.7,467.9 L514.1,466.7 L516.5,465.5 L518.8,464.3 L521.2,463.3 L523.6,462.4 L526.0,461.5 L528.4,460.9 L530.8,462.2 L533.2,463.6 L535.6,464.9 L538.0,465.5 L540.4,465.5 L542.7,465.5 L545.1,464.9 L547.5,463.5 L549.9,462.1 L552.3,460.8 L554.7,460.2 L557.1,459.7 L559.5,459.2 L561.9,459.7 L564.3,460.4 L566.6,461.6 L569.0,463.9 L571.4,465.2 L573.8,466.1 L576.2,467.1 L578.6,468.1 L581.0,469.2 L583.4,469.8 L585.8,469.8 L588.1,469.8 L590.5,469.8 L592.9,469.5 L595.3,469.0 L597.7,468.4 L600.1,467.9 L602.5,467.5 L604.9,467.1 L607.3,466.5 L609.7,465.2 L612.0,463.9 L614.4,464.2 L616.8,464.6 L619.2,465.5 L621.6,466.7 L624.0,467.8 L626.4,469.0 L628.8,470.2 L631.2,471.4 L633.6,472.3 L635.9,473.2 L638.3,474.0 L640.7,474.2 L643.1,474.5 L645.5,474.7 L647.9,474.3 L650.3,473.9 L652.7,473.5 L655.1,473.1 L657.4,472.7 L659.8,472.5 L662.2,472.2 L664.6,471.9 L667.0,472.1 L669.4,472.4 L671.8,472.6 L674.2,472.8 L676.6,473.0 L679.0,473.4 L681.3,473.9 L683.7,474.5 L686.1,475.0 L688.5,475.5 L690.9,476.0 L693.3,476.4 L695.7,476.7 L698.1,477.1 L700.5,477.4 L702.9,477.4 L705.2,477.3 L707.6,477.3 L710.0,477.2 L712.4,477.7 L714.8,478.2 L717.2,478.7 L719.6,479.3 L722.0,479.8 L724.4,480.1 L726.8,480.4 L729.1,480.7 L731.5,481.1 L733.9,481.4 L736.3,481.7 L738.7,481.9 L741.1,482.2 L743.5,482.5 L745.9,482.7 L748.3,483.0 L750.6,483.2 L753.0,483.4 L755.4,483.6 L757.8,483.8 L760.2,484.0 L762.6,484.3 L765.0,484.3 L767.4,484.3 L769.8,484.3 L772.2,484.3 L774.5,484.3 L776.9,484.3 L779.3,484.2 L781.7,484.0 L784.1,483.8 L786.5,483.7 L788.9,483.5 L791.3,483.3 L793.7,483.2 L796.1,482.9 L798.4,482.7 L800.8,482.5 L803.2,482.3 L805.6,482.0 L808.0,481.8 L810.4,481.3 L812.8,479.9 L815.2,478.6 L817.6,477.2 L820.0,475.8 L822.3,474.6 L824.7,473.3 L827.1,472.0 L829.5,470.9 L831.9,470.0 L834.3,469.1 L836.7,468.3 L839.1,468.4 L841.5,468.7 L843.8,469.1 L846.2,469.5 L848.6,469.6 L851.0,469.5 L853.4,469.3 L855.8,469.2 L858.2,468.9 L860.6,468.4 L863.0,467.9 L865.4,467.4 L867.7,466.8 L870.1,466.2 L872.5,465.6 L874.9,465.0 L877.3,464.3 L879.7,463.1 L882.1,461.9 L884.5,460.7 L886.9,459.9 L889.3,459.2 L891.6,458.6 L894.0,458.2 L896.4,457.9 L898.8,457.4 L901.2,456.4 L903.6,455.3 L906.0,454.3 L908.4,453.5 L910.8,452.7 L913.1,452.0 L915.5,451.2 L917.9,450.5 L920.3,449.8 L922.7,447.4 L925.1,445.0 L927.5,442.6 L929.9,440.2 L932.3,437.8 L934.7,435.4 L937.0,433.1 L939.4,430.8 L941.8,428.6 L944.2,426.5 L946.6,424.3 L949.0,422.4 L951.4,420.5 L953.8,418.6 L956.2,416.8 L958.6,416.0 L960.9,415.2 L963.3,414.5 L965.7,415.2 L968.1,415.8 L970.5,416.5 L972.9,417.5 L975.3,419.0 L977.7,420.5 L980.1,422.0 L982.5,424.1 L984.8,426.7 L987.2,429.3 L989.6,431.9 L992.0,434.4 L994.4,436.9 L996.8,439.4 L999.2,441.1 L1001.6,442.0 L1004.0,440.1 L1006.3,436.5 L1008.7,432.6 L1011.1,427.4 L1013.5,422.1 L1015.9,416.6 L1018.3,410.7 L1020.7,404.7 L1023.1,396.4 L1025.5,388.0 L1027.9,380.0 L1030.2,372.3 L1032.6,366.1 L1035.0,362.9 L1037.4,359.8 L1039.8,359.1 L1042.2,361.1 L1044.6,363.7 L1047.0,367.3 L1049.4,370.9 L1051.8,372.5 L1054.1,373.6 L1056.5,372.6 L1058.9,371.6 L1061.3,368.6 L1063.7,365.0 L1066.1,361.1 L1068.5,357.0 L1070.9,352.9 L1073.3,349.7 L1075.6,346.5 L1078.0,345.2 L1080.4,344.5 L1082.8,345.4 L1085.2,346.4 L1087.6,349.5 L1090.0,353.1 L1092.4,356.8 L1094.8,360.6 L1097.2,363.9 L1099.5,365.2 L1101.9,365.4 L1104.3,364.2 L1106.7,362.8 L1109.1,360.2 L1111.5,357.5 L1113.9,356.6 L1116.3,357.2 L1118.7,360.0 L1121.1,363.5 L1123.4,368.3 L1125.8,373.0 L1128.2,377.3 L1130.6,381.6 L1133.0,385.6 L1135.4,388.0 L1137.8,390.4 L1140.2,392.8 L1142.6,394.9 L1145.0,396.8 L1147.3,398.7 L1149.7,401.5 L1152.1,404.4 L1154.5,407.6 L1156.9,410.9 L1159.3,414.3 L1161.7,417.2 L1164.1,419.9 L1166.5,422.6 L1168.8,423.9 L1171.2,424.5 L1173.6,425.2 L1176.0,425.5 L1178.4,425.8 L1180.8,426.0 L1183.2,426.5 L1185.6,427.3 L1188.0,428.2 L1190.4,428.3 L1192.7,423.6 L1195.1,415.7 L1197.5,389.0 L1199.9,355.0 L1202.3,316.3 L1204.7,252.8 L1207.1,210.7 L1209.5,171.2 L1211.9,145.6 L1214.3,133.4 L1216.6,122.5 L1219.0,130.4 L1221.4,139.5 L1223.8,153.3 L1226.2,171.7 L1228.6,192.6 L1231.0,214.3 L1233.4,232.3 L1235.8,247.1 L1238.2,267.9 L1240.5,286.2 L1242.9,299.9 L1245.3,309.3 L1247.7,315.5 L1250.1,320.4 L1252.5,321.9 L1254.9,321.2 L1257.3,319.4 L1259.7,315.3 L1262.0,310.5 L1264.4,303.8 L1266.8,297.1 L1269.2,290.1 L1271.6,283.1 L1274.0,276.6 L1276.4,270.8 L1278.8,264.9 L1281.2,260.1 L1283.6,255.4 L1285.9,251.0 L1288.3,247.5 L1290.7,243.9 L1293.1,241.5 L1295.5,239.8 L1297.9,239.3 L1300.3,240.0 L1302.7,241.5 L1305.1,245.1 L1307.5,249.0 L1309.8,254.5 L1312.2,260.0 L1314.6,267.7 L1317.0,275.4 L1319.4,283.9 L1321.8,292.6 L1324.2,301.1 L1326.6,309.6 L1329.0,321.8 L1331.3,337.7 L1333.7,349.3 L1336.1,359.1 L1338.5,365.2 L1340.9,370.5 L1343.3,375.2 L1345.7,379.0 L1348.1,382.2 L1350.5,382.4 L1352.9,382.5 L1355.2,382.3 L1357.6,381.7 L1360.0,381.1 L1362.4,378.9 L1364.8,376.6 L1367.2,369.8 L1369.6,361.6 L1372.0,350.8 L1374.4,337.9 L1376.8,319.4 L1379.1,301.8 L1381.5,286.0 L1383.9,274.0 L1386.3,266.2 L1388.7,261.5 L1391.1,258.6 L1393.5,256.5 L1395.9,255.3 L1398.3,254.2 L1400.7,255.2 L1403.0,256.6 L1405.4,258.9 L1407.8,261.8 L1410.2,264.6 L1412.6,267.0 L1415.0,269.4 L1417.4,272.0 L1419.8,274.9 L1422.2,277.7 L1424.5,282.7 L1426.9,288.6 L1429.3,298.1 L1431.7,310.3 L1434.1,326.7 L1436.5,337.9 L1438.9,345.2 L1441.3,351.5 L1443.7,355.4 L1446.1,357.3 L1448.4,357.5 L1450.8,356.5 L1453.2,355.3 L1455.6,353.9 L1458.0,352.8" fill="none" stroke="#3a528f" stroke-width="1.35" stroke-linejoin="round" stroke-linecap="round"/>
<path d="M112.6,486.9 L115.0,486.6 L117.4,486.4 L119.8,486.1 L122.2,485.8 L124.5,485.6 L126.9,485.3 L129.3,485.0 L131.7,484.5 L134.1,484.1 L136.5,483.7 L138.9,483.8 L141.3,484.1 L143.7,484.4 L146.1,484.7 L148.4,484.9 L150.8,484.9 L153.2,484.9 L155.6,484.9 L158.0,484.9 L160.4,484.9 L162.8,484.8 L165.2,484.4 L167.6,484.0 L169.9,483.6 L172.3,483.2 L174.7,481.8 L177.1,480.4 L179.5,478.9 L181.9,477.1 L184.3,475.3 L186.7,472.7 L189.1,469.4 L191.5,466.1 L193.8,460.6 L196.2,454.6 L198.6,448.6 L201.0,442.7 L203.4,439.4 L205.8,437.3 L208.2,435.1 L210.6,432.4 L213.0,428.2 L215.4,426.4 L217.7,424.8 L220.1,421.8 L222.5,418.7 L224.9,418.4 L227.3,417.8 L229.7,415.4 L232.1,412.8 L234.5,409.8 L236.9,410.7 L239.2,410.7 L241.6,408.2 L244.0,407.2 L246.4,412.3 L248.8,417.5 L251.2,422.4 L253.6,425.2 L256.0,428.0 L258.4,431.4 L260.8,434.9 L263.1,432.9 L265.5,430.9 L267.9,429.7 L270.3,430.9 L272.7,430.9 L275.1,429.8 L277.5,435.3 L279.9,441.2 L282.3,447.7 L284.7,454.5 L287.0,457.9 L289.4,459.9 L291.8,459.9 L294.2,458.7 L296.6,460.2 L299.0,461.5 L301.4,461.7 L303.8,461.9 L306.2,462.5 L308.6,463.4 L310.9,466.7 L313.3,469.9 L315.7,472.5 L318.1,473.5 L320.5,474.6 L322.9,475.6 L325.3,476.1 L327.7,476.5 L330.1,476.9 L332.4,477.2 L334.8,477.1 L337.2,477.1 L339.6,477.0 L342.0,477.6 L344.4,478.3 L346.8,478.1 L349.2,477.3 L351.6,476.5 L354.0,475.7 L356.3,475.3 L358.7,475.7 L361.1,476.0 L363.5,476.7 L365.9,477.6 L368.3,478.5 L370.7,478.3 L373.1,478.1 L375.5,477.9 L377.9,478.2 L380.2,478.7 L382.6,479.3 L385.0,479.8 L387.4,480.2 L389.8,480.6 L392.2,481.0 L394.6,481.4 L397.0,481.7 L399.4,481.8 L401.8,481.9 L404.1,482.0 L406.5,482.1 L408.9,482.2 L411.3,482.3 L413.7,482.4 L416.1,482.4 L418.5,482.4 L420.9,482.4 L423.3,482.4 L425.6,482.4 L428.0,482.0 L430.4,481.6 L432.8,481.2 L435.2,480.9 L437.6,481.0 L440.0,481.2 L442.4,481.3 L444.8,481.5 L447.2,481.6 L449.5,480.8 L451.9,480.0 L454.3,479.2 L456.7,478.4 L459.1,476.9 L461.5,475.4 L463.9,474.2 L466.3,473.3 L468.7,472.5 L471.1,471.6 L473.4,471.1 L475.8,470.7 L478.2,470.4 L480.6,470.1 L483.0,469.7 L485.4,469.1 L487.8,468.6 L490.2,468.0 L492.6,467.5 L494.9,467.3 L497.3,467.2 L499.7,467.1 L502.1,467.1 L504.5,467.1 L506.9,467.7 L509.3,468.3 L511.7,467.9 L514.1,466.7 L516.5,465.5 L518.8,464.3 L521.2,463.2 L523.6,462.2 L526.0,461.2 L528.4,460.6 L530.8,462.0 L533.2,463.4 L535.6,464.9 L538.0,465.5 L540.4,465.5 L542.7,465.5 L545.1,464.9 L547.5,463.5 L549.9,462.1 L552.3,460.7 L554.7,460.2 L557.1,459.6 L559.5,459.0 L561.9,459.6 L564.3,460.4 L566.6,461.6 L569.0,463.9 L571.4,465.2 L573.8,466.0 L576.2,466.9 L578.6,468.0 L581.0,469.1 L583.4,469.8 L585.8,469.8 L588.1,469.8 L590.5,469.8 L592.9,469.5 L595.3,469.0 L597.7,468.4 L600.1,467.9 L602.5,467.5 L604.9,467.1 L607.3,466.5 L609.7,464.9 L612.0,463.4 L614.4,463.7 L616.8,464.4 L619.2,465.5 L621.6,467.0 L624.0,468.4 L626.4,469.8 L628.8,470.9 L631.2,472.1 L633.6,473.3 L635.9,474.0 L638.3,474.2 L640.7,474.4 L643.1,474.5 L645.5,474.7 L647.9,474.3 L650.3,473.9 L652.7,473.5 L655.1,473.1 L657.4,472.7 L659.8,472.3 L662.2,472.0 L664.6,471.6 L667.0,471.9 L669.4,472.2 L671.8,472.4 L674.2,472.7 L676.6,473.0 L679.0,473.4 L681.3,473.9 L683.7,474.5 L686.1,475.0 L688.5,475.5 L690.9,476.0 L693.3,476.4 L695.7,476.7 L698.1,477.1 L700.5,477.4 L702.9,477.4 L705.2,477.3 L707.6,477.1 L710.0,477.0 L712.4,477.5 L714.8,478.1 L717.2,478.7 L719.6,479.3 L722.0,479.8 L724.4,480.2 L726.8,480.6 L729.1,480.9 L731.5,481.3 L733.9,481.7 L736.3,481.9 L738.7,482.1 L741.1,482.3 L743.5,482.5 L745.9,482.7 L748.3,483.0 L750.6,483.2 L753.0,483.4 L755.4,483.6 L757.8,483.8 L760.2,484.0 L762.6,484.3 L765.0,484.3 L767.4,484.3 L769.8,484.3 L772.2,484.3 L774.5,484.3 L776.9,484.3 L779.3,484.2 L781.7,484.0 L784.1,483.8 L786.5,483.7 L788.9,483.5 L791.3,483.3 L793.7,483.2 L796.1,482.9 L798.4,482.7 L800.8,482.5 L803.2,482.3 L805.6,482.0 L808.0,481.8 L810.4,481.3 L812.8,479.9 L815.2,478.6 L817.6,477.2 L820.0,475.9 L822.3,474.7 L824.7,473.5 L827.1,472.3 L829.5,471.2 L831.9,470.2 L834.3,469.2 L836.7,468.3 L839.1,468.4 L841.5,468.7 L843.8,469.1 L846.2,469.5 L848.6,469.6 L851.0,469.5 L853.4,469.3 L855.8,469.2 L858.2,468.9 L860.6,468.4 L863.0,467.9 L865.4,467.4 L867.7,466.8 L870.1,466.2 L872.5,465.6 L874.9,465.0 L877.3,464.3 L879.7,463.1 L882.1,461.9 L884.5,460.7 L886.9,461.0 L889.3,461.4 L891.6,461.7 L894.0,461.3 L896.4,460.4 L898.8,459.6 L901.2,458.3 L903.6,456.7 L906.0,455.0 L908.4,453.5 L910.8,452.8 L913.1,452.1 L915.5,451.3 L917.9,451.3 L920.3,451.3 L922.7,451.3 L925.1,451.2 L927.5,448.0 L929.9,444.9 L932.3,443.0 L934.7,441.1 L937.0,439.2 L939.4,437.1 L941.8,434.9 L944.2,432.8 L946.6,430.6 L949.0,428.5 L951.4,426.3 L953.8,424.2 L956.2,422.1 L958.6,420.0 L960.9,417.7 L963.3,415.3 L965.7,415.2 L968.1,415.8 L970.5,416.5 L972.9,417.7 L975.3,418.9 L977.7,420.1 L980.1,421.7 L982.5,423.4 L984.8,425.1 L987.2,427.4 L989.6,430.0 L992.0,432.6 L994.4,435.2 L996.8,437.6 L999.2,439.9 L1001.6,441.7 L1004.0,441.1 L1006.3,437.7 L1008.7,434.1 L1011.1,429.3 L1013.5,424.5 L1015.9,419.8 L1018.3,415.0 L1020.7,410.2 L1023.1,405.4 L1025.5,399.8 L1027.9,391.4 L1030.2,383.0 L1032.6,375.8 L1035.0,368.6 L1037.4,364.4 L1039.8,362.0 L1042.2,361.1 L1044.6,363.5 L1047.0,365.9 L1049.4,368.3 L1051.8,370.5 L1054.1,372.1 L1056.5,372.2 L1058.9,371.1 L1061.3,371.4 L1063.7,371.7 L1066.1,367.3 L1068.5,362.9 L1070.9,359.4 L1073.3,356.2 L1075.6,355.4 L1078.0,352.9 L1080.4,345.9 L1082.8,345.7 L1085.2,346.8 L1087.6,348.7 L1090.0,351.7 L1092.4,355.3 L1094.8,359.1 L1097.2,363.2 L1099.5,367.3 L1101.9,366.7 L1104.3,366.1 L1106.7,364.2 L1109.1,361.8 L1111.5,357.1 L1113.9,355.6 L1116.3,355.3 L1118.7,360.1 L1121.1,364.4 L1123.4,368.0 L1125.8,371.6 L1128.2,375.8 L1130.6,380.0 L1133.0,383.3 L1135.4,386.3 L1137.8,388.4 L1140.2,389.2 L1142.6,391.0 L1145.0,393.4 L1147.3,395.6 L1149.7,397.8 L1152.1,401.3 L1154.5,405.6 L1156.9,409.2 L1159.3,412.8 L1161.7,416.0 L1164.1,419.0 L1166.5,421.4 L1168.8,422.2 L1171.2,421.4 L1173.6,419.4 L1176.0,420.7 L1178.4,422.5 L1180.8,421.3 L1183.2,424.1 L1185.6,426.9 L1188.0,427.8 L1190.4,428.5 L1192.7,424.7 L1195.1,417.8 L1197.5,393.2 L1199.9,345.9 L1202.3,292.7 L1204.7,262.6 L1207.1,235.6 L1209.5,207.4 L1211.9,162.7 L1214.3,133.4 L1216.6,124.2 L1219.0,135.4 L1221.4,151.9 L1223.8,143.4 L1226.2,148.5 L1228.6,164.3 L1231.0,191.3 L1233.4,218.4 L1235.8,239.0 L1238.2,261.4 L1240.5,282.6 L1242.9,298.0 L1245.3,307.4 L1247.7,315.4 L1250.1,320.2 L1252.5,321.4 L1254.9,320.9 L1257.3,321.4 L1259.7,314.6 L1262.0,308.9 L1264.4,304.1 L1266.8,299.3 L1269.2,293.4 L1271.6,286.8 L1274.0,282.3 L1276.4,280.5 L1278.8,276.9 L1281.2,269.7 L1283.6,267.2 L1285.9,262.3 L1288.3,256.2 L1290.7,252.0 L1293.1,247.8 L1295.5,245.5 L1297.9,243.3 L1300.3,234.7 L1302.7,234.8 L1305.1,241.7 L1307.5,244.0 L1309.8,246.4 L1312.2,248.9 L1314.6,260.5 L1317.0,270.9 L1319.4,280.6 L1321.8,287.4 L1324.2,294.1 L1326.6,303.9 L1329.0,314.6 L1331.3,330.2 L1333.7,343.4 L1336.1,354.0 L1338.5,361.1 L1340.9,367.0 L1343.3,369.3 L1345.7,376.3 L1348.1,381.9 L1350.5,384.4 L1352.9,382.9 L1355.2,382.1 L1357.6,381.9 L1360.0,383.6 L1362.4,389.1 L1364.8,382.2 L1367.2,373.0 L1369.6,363.5 L1372.0,353.9 L1374.4,344.3 L1376.8,332.4 L1379.1,317.3 L1381.5,300.5 L1383.9,285.5 L1386.3,274.6 L1388.7,266.8 L1391.1,260.7 L1393.5,257.2 L1395.9,250.2 L1398.3,242.8 L1400.7,242.2 L1403.0,251.4 L1405.4,260.8 L1407.8,269.0 L1410.2,266.7 L1412.6,261.5 L1415.0,267.7 L1417.4,275.5 L1419.8,272.1 L1422.2,266.7 L1424.5,269.7 L1426.9,273.6 L1429.3,288.0 L1431.7,302.7" fill="none" stroke="#d2884a" stroke-width="1.35" stroke-linejoin="round" stroke-linecap="round"/>
<text x="92.7" y="493.9" font-size="21.4" fill="#262626" stroke="#fff" stroke-width="0.3" textLength="6.9" lengthAdjust="spacingAndGlyphs">0</text>
<text x="85.7" y="443.8" font-size="21.4" fill="#262626" stroke="#fff" stroke-width="0.3" textLength="13.9" lengthAdjust="spacingAndGlyphs">50</text>
<text x="78.8" y="393.7" font-size="21.4" fill="#262626" stroke="#fff" stroke-width="0.3" textLength="20.8" lengthAdjust="spacingAndGlyphs">100</text>
<text x="78.8" y="343.6" font-size="21.4" fill="#262626" stroke="#fff" stroke-width="0.3" textLength="20.8" lengthAdjust="spacingAndGlyphs">150</text>
<text x="78.8" y="293.5" font-size="21.4" fill="#262626" stroke="#fff" stroke-width="0.3" textLength="20.8" lengthAdjust="spacingAndGlyphs">200</text>
<text x="78.8" y="243.4" font-size="21.4" fill="#262626" stroke="#fff" stroke-width="0.3" textLength="20.8" lengthAdjust="spacingAndGlyphs">250</text>
<text x="78.8" y="193.3" font-size="21.4" fill="#262626" stroke="#fff" stroke-width="0.3" textLength="20.8" lengthAdjust="spacingAndGlyphs">300</text>
<text x="78.8" y="143.2" font-size="21.4" fill="#262626" stroke="#fff" stroke-width="0.3" textLength="20.8" lengthAdjust="spacingAndGlyphs">350</text>
<text x="78.8" y="93.1" font-size="21.4" fill="#262626" stroke="#fff" stroke-width="0.3" textLength="20.8" lengthAdjust="spacingAndGlyphs">400</text>
<text x="1473.9" y="493.9" font-size="21.4" fill="#262626" stroke="#fff" stroke-width="0.3" textLength="6.8" lengthAdjust="spacingAndGlyphs">0</text>
<text x="1473.9" y="427.1" font-size="21.4" fill="#262626" stroke="#fff" stroke-width="0.3" textLength="13.6" lengthAdjust="spacingAndGlyphs">50</text>
<text x="1473.9" y="360.3" font-size="21.4" fill="#262626" stroke="#fff" stroke-width="0.3" textLength="20.4" lengthAdjust="spacingAndGlyphs">100</text>
<text x="1473.9" y="293.5" font-size="21.4" fill="#262626" stroke="#fff" stroke-width="0.3" textLength="20.4" lengthAdjust="spacingAndGlyphs">150</text>
<text x="1473.9" y="226.7" font-size="21.4" fill="#262626" stroke="#fff" stroke-width="0.3" textLength="20.4" lengthAdjust="spacingAndGlyphs">200</text>
<text x="1473.9" y="159.9" font-size="21.4" fill="#262626" stroke="#fff" stroke-width="0.3" textLength="20.4" lengthAdjust="spacingAndGlyphs">250</text>
<text x="1473.9" y="93.1" font-size="21.4" fill="#262626" stroke="#fff" stroke-width="0.3" textLength="20.4" lengthAdjust="spacingAndGlyphs">300</text>
<text transform="translate(116.5,557.2) rotate(-90)" font-size="10" fill="#111" stroke="#fff" stroke-width="0.28" textLength="59.2" lengthAdjust="spacingAndGlyphs">01-10-20</text>
<text transform="translate(133.2,557.2) rotate(-90)" font-size="10" fill="#111" stroke="#fff" stroke-width="0.28" textLength="59.2" lengthAdjust="spacingAndGlyphs">08-10-20</text>
<text transform="translate(150.0,557.2) rotate(-90)" font-size="10" fill="#111" stroke="#fff" stroke-width="0.28" textLength="59.2" lengthAdjust="spacingAndGlyphs">15-10-20</text>
<text transform="translate(166.7,557.2) rotate(-90)" font-size="10" fill="#111" stroke="#fff" stroke-width="0.28" textLength="59.2" lengthAdjust="spacingAndGlyphs">22-10-20</text>
<text transform="translate(183.4,557.2) rotate(-90)" font-size="10" fill="#111" stroke="#fff" stroke-width="0.28" textLength="59.2" lengthAdjust="spacingAndGlyphs">29-10-20</text>
<text transform="translate(200.1,557.2) rotate(-90)" font-size="10" fill="#111" stroke="#fff" stroke-width="0.28" textLength="59.2" lengthAdjust="spacingAndGlyphs">05-11-20</text>
<text transform="translate(216.9,557.2) rotate(-90)" font-size="10" fill="#111" stroke="#fff" stroke-width="0.28" textLength="59.2" lengthAdjust="spacingAndGlyphs">12-11-20</text>
<text transform="translate(233.6,557.2) rotate(-90)" font-size="10" fill="#111" stroke="#fff" stroke-width="0.28" textLength="59.2" lengthAdjust="spacingAndGlyphs">19-11-20</text>
<text transform="translate(250.3,557.2) rotate(-90)" font-size="10" fill="#111" stroke="#fff" stroke-width="0.28" textLength="59.2" lengthAdjust="spacingAndGlyphs">26-11-20</text>
<text transform="translate(267.1,557.2) rotate(-90)" font-size="10" fill="#111" stroke="#fff" stroke-width="0.28" textLength="59.2" lengthAdjust="spacingAndGlyphs">03-12-20</text>
<text transform="translate(283.8,557.2) rotate(-90)" font-size="10" fill="#111" stroke="#fff" stroke-width="0.28" textLength="59.2" lengthAdjust="spacingAndGlyphs">10-12-20</text>
<text transform="translate(300.5,557.2) rotate(-90)" font-size="10" fill="#111" stroke="#fff" stroke-width="0.28" textLength="59.2" lengthAdjust="spacingAndGlyphs">17-12-20</text>
<text transform="translate(317.2,557.2) rotate(-90)" font-size="10" fill="#111" stroke="#fff" stroke-width="0.28" textLength="59.2" lengthAdjust="spacingAndGlyphs">24-12-20</text>
<text transform="translate(334.0,557.2) rotate(-90)" font-size="10" fill="#111" stroke="#fff" stroke-width="0.28" textLength="59.2" lengthAdjust="spacingAndGlyphs">31-12-20</text>
<text transform="translate(350.7,557.2) rotate(-90)" font-size="10" fill="#111" stroke="#fff" stroke-width="0.28" textLength="59.2" lengthAdjust="spacingAndGlyphs">07-01-21</text>
<text transform="translate(367.4,557.2) rotate(-90)" font-size="10" fill="#111" stroke="#fff" stroke-width="0.28" textLength="59.2" lengthAdjust="spacingAndGlyphs">14-01-21</text>
<text transform="translate(384.1,557.2) rotate(-90)" font-size="10" fill="#111" stroke="#fff" stroke-width="0.28" textLength="59.2" lengthAdjust="spacingAndGlyphs">21-01-21</text>
<text transform="translate(400.9,557.2) rotate(-90)" font-size="10" fill="#111" stroke="#fff" stroke-width="0.28" textLength="59.2" lengthAdjust="spacingAndGlyphs">28-01-21</text>
<text transform="translate(417.6,557.2) rotate(-90)" font-size="10" fill="#111" stroke="#fff" stroke-width="0.28" textLength="59.2" lengthAdjust="spacingAndGlyphs">04-02-21</text>
<text transform="translate(434.3,557.2) rotate(-90)" font-size="10" fill="#111" stroke="#fff" stroke-width="0.28" textLength="59.2" lengthAdjust="spacingAndGlyphs">11-02-21</text>
<text transform="translate(451.1,557.2) rotate(-90)" font-size="10" fill="#111" stroke="#fff" stroke-width="0.28" textLength="59.2" lengthAdjust="spacingAndGlyphs">18-02-21</text>
<text transform="translate(467.8,557.2) rotate(-90)" font-size="10" fill="#111" stroke="#fff" stroke-width="0.28" textLength="59.2" lengthAdjust="spacingAndGlyphs">25-02-21</text>
<text transform="translate(484.5,557.2) rotate(-90)" font-size="10" fill="#111" stroke="#fff" stroke-width="0.28" textLength="59.2" lengthAdjust="spacingAndGlyphs">04-03-21</text>
<text transform="translate(501.2,557.2) rotate(-90)" font-size="10" fill="#111" stroke="#fff" stroke-width="0.28" textLength="59.2" lengthAdjust="spacingAndGlyphs">11-03-21</text>
<text transform="translate(518.0,557.2) rotate(-90)" font-size="10" fill="#111" stroke="#fff" stroke-width="0.28" textLength="59.2" lengthAdjust="spacingAndGlyphs">18-03-21</text>
<text transform="translate(534.7,557.2) rotate(-90)" font-size="10" fill="#111" stroke="#fff" stroke-width="0.28" textLength="59.2" lengthAdjust="spacingAndGlyphs">25-03-21</text>
<text transform="translate(551.4,557.2) rotate(-90)" font-size="10" fill="#111" stroke="#fff" stroke-width="0.28" textLength="59.2" lengthAdjust="spacingAndGlyphs">01-04-21</text>
<text transform="translate(568.2,557.2) rotate(-90)" font-size="10" fill="#111" stroke="#fff" stroke-width="0.28" textLength="59.2" lengthAdjust="spacingAndGlyphs">08-04-21</text>
<text transform="translate(584.9,557.2) rotate(-90)" font-size="10" fill="#111" stroke="#fff" stroke-width="0.28" textLength="59.2" lengthAdjust="spacingAndGlyphs">15-04-21</text>
<text transform="translate(601.6,557.2) rotate(-90)" font-size="10" fill="#111" stroke="#fff" stroke-width="0.28" textLength="59.2" lengthAdjust="spacingAndGlyphs">22-04-21</text>
<text transform="translate(618.3,557.2) rotate(-90)" font-size="10" fill="#111" stroke="#fff" stroke-width="0.28" textLength="59.2" lengthAdjust="spacingAndGlyphs">29-04-21</text>
<text transform="translate(635.1,557.2) rotate(-90)" font-size="10" fill="#111" stroke="#fff" stroke-width="0.28" textLength="59.2" lengthAdjust="spacingAndGlyphs">06-05-21</text>
<text transform="translate(651.8,557.2) rotate(-90)" font-size="10" fill="#111" stroke="#fff" stroke-width="0.28" textLength="59.2" lengthAdjust="spacingAndGlyphs">13-05-21</text>
<text transform="translate(668.5,557.2) rotate(-90)" font-size="10" fill="#111" stroke="#fff" stroke-width="0.28" textLength="59.2" lengthAdjust="spacingAndGlyphs">20-05-21</text>
<text transform="translate(685.3,557.2) rotate(-90)" font-size="10" fill="#111" stroke="#fff" stroke-width="0.28" textLength="59.2" lengthAdjust="spacingAndGlyphs">27-05-21</text>
<text transform="translate(702.0,557.2) rotate(-90)" font-size="10" fill="#111" stroke="#fff" stroke-width="0.28" textLength="59.2" lengthAdjust="spacingAndGlyphs">03-06-21</text>
<text transform="translate(718.7,557.2) rotate(-90)" font-size="10" fill="#111" stroke="#fff" stroke-width="0.28" textLength="59.2" lengthAdjust="spacingAndGlyphs">10-06-21</text>
<text transform="translate(735.4,557.2) rotate(-90)" font-size="10" fill="#111" stroke="#fff" stroke-width="0.28" textLength="59.2" lengthAdjust="spacingAndGlyphs">17-06-21</text>
<text transform="translate(752.2,557.2) rotate(-90)" font-size="10" fill="#111" stroke="#fff" stroke-width="0.28" textLength="59.2" lengthAdjust="spacingAndGlyphs">24-06-21</text>
<text transform="translate(768.9,557.2) rotate(-90)" font-size="10" fill="#111" stroke="#fff" stroke-width="0.28" textLength="59.2" lengthAdjust="spacingAndGlyphs">01-07-21</text>
<text transform="translate(785.6,557.2) rotate(-90)" font-size="10" fill="#111" stroke="#fff" stroke-width="0.28" textLength="59.2" lengthAdjust="spacingAndGlyphs">08-07-21</text>
<text transform="translate(802.3,557.2) rotate(-90)" font-size="10" fill="#111" stroke="#fff" stroke-width="0.28" textLength="59.2" lengthAdjust="spacingAndGlyphs">15-07-21</text>
<text transform="translate(819.1,557.2) rotate(-90)" font-size="10" fill="#111" stroke="#fff" stroke-width="0.28" textLength="59.2" lengthAdjust="spacingAndGlyphs">22-07-21</text>
<text transform="translate(835.8,557.2) rotate(-90)" font-size="10" fill="#111" stroke="#fff" stroke-width="0.28" textLength="59.2" lengthAdjust="spacingAndGlyphs">29-07-21</text>
<text transform="translate(852.5,557.2) rotate(-90)" font-size="10" fill="#111" stroke="#fff" stroke-width="0.28" textLength="59.2" lengthAdjust="spacingAndGlyphs">05-08-21</text>
<text transform="translate(869.3,557.2) rotate(-90)" font-size="10" fill="#111" stroke="#fff" stroke-width="0.28" textLength="59.2" lengthAdjust="spacingAndGlyphs">12-08-21</text>
<text transform="translate(886.0,557.2) rotate(-90)" font-size="10" fill="#111" stroke="#fff" stroke-width="0.28" textLength="59.2" lengthAdjust="spacingAndGlyphs">19-08-21</text>
<text transform="translate(902.7,557.2) rotate(-90)" font-size="10" fill="#111" stroke="#fff" stroke-width="0.28" textLength="59.2" lengthAdjust="spacingAndGlyphs">26-08-21</text>
<text transform="translate(919.4,557.2) rotate(-90)" font-size="10" fill="#111" stroke="#fff" stroke-width="0.28" textLength="59.2" lengthAdjust="spacingAndGlyphs">02-09-21</text>
<text transform="translate(936.2,557.2) rotate(-90)" font-size="10" fill="#111" stroke="#fff" stroke-width="0.28" textLength="59.2" lengthAdjust="spacingAndGlyphs">09-09-21</text>
<text transform="translate(952.9,557.2) rotate(-90)" font-size="10" fill="#111" stroke="#fff" stroke-width="0.28" textLength="59.2" lengthAdjust="spacingAndGlyphs">16-09-21</text>
<text transform="translate(969.6,557.2) rotate(-90)" font-size="10" fill="#111" stroke="#fff" stroke-width="0.28" textLength="59.2" lengthAdjust="spacingAndGlyphs">23-09-21</text>
<text transform="translate(986.4,557.2) rotate(-90)" font-size="10" fill="#111" stroke="#fff" stroke-width="0.28" textLength="59.2" lengthAdjust="spacingAndGlyphs">30-09-21</text>
<text transform="translate(1003.1,557.2) rotate(-90)" font-size="10" fill="#111" stroke="#fff" stroke-width="0.28" textLength="59.2" lengthAdjust="spacingAndGlyphs">07-10-21</text>
<text transform="translate(1019.8,557.2) rotate(-90)" font-size="10" fill="#111" stroke="#fff" stroke-width="0.28" textLength="59.2" lengthAdjust="spacingAndGlyphs">14-10-21</text>
<text transform="translate(1036.5,557.2) rotate(-90)" font-size="10" fill="#111" stroke="#fff" stroke-width="0.28" textLength="59.2" lengthAdjust="spacingAndGlyphs">21-10-21</text>
<text transform="translate(1053.3,557.2) rotate(-90)" font-size="10" fill="#111" stroke="#fff" stroke-width="0.28" textLength="59.2" lengthAdjust="spacingAndGlyphs">28-10-21</text>
<text transform="translate(1070.0,557.2) rotate(-90)" font-size="10" fill="#111" stroke="#fff" stroke-width="0.28" textLength="59.2" lengthAdjust="spacingAndGlyphs">04-11-21</text>
<text transform="translate(1086.7,557.2) rotate(-90)" font-size="10" fill="#111" stroke="#fff" stroke-width="0.28" textLength="59.2" lengthAdjust="spacingAndGlyphs">11-11-21</text>
<text transform="translate(1103.5,557.2) rotate(-90)" font-size="10" fill="#111" stroke="#fff" stroke-width="0.28" textLength="59.2" lengthAdjust="spacingAndGlyphs">18-11-21</text>
<text transform="translate(1120.2,557.2) rotate(-90)" font-size="10" fill="#111" stroke="#fff" stroke-width="0.28" textLength="59.2" lengthAdjust="spacingAndGlyphs">25-11-21</text>
<text transform="translate(1136.9,557.2) rotate(-90)" font-size="10" fill="#111" stroke="#fff" stroke-width="0.28" textLength="59.2" lengthAdjust="spacingAndGlyphs">02-12-21</text>
<text transform="translate(1153.6,557.2) rotate(-90)" font-size="10" fill="#111" stroke="#fff" stroke-width="0.28" textLength="59.2" lengthAdjust="spacingAndGlyphs">09-12-21</text>
<text transform="translate(1170.4,557.2) rotate(-90)" font-size="10" fill="#111" stroke="#fff" stroke-width="0.28" textLength="59.2" lengthAdjust="spacingAndGlyphs">16-12-21</text>
<text transform="translate(1187.1,557.2) rotate(-90)" font-size="10" fill="#111" stroke="#fff" stroke-width="0.28" textLength="59.2" lengthAdjust="spacingAndGlyphs">23-12-21</text>
<text transform="translate(1203.8,557.2) rotate(-90)" font-size="10" fill="#111" stroke="#fff" stroke-width="0.28" textLength="59.2" lengthAdjust="spacingAndGlyphs">30-12-21</text>
<text transform="translate(1220.5,557.2) rotate(-90)" font-size="10" fill="#111" stroke="#fff" stroke-width="0.28" textLength="59.2" lengthAdjust="spacingAndGlyphs">06-01-22</text>
<text transform="translate(1237.3,557.2) rotate(-90)" font-size="10" fill="#111" stroke="#fff" stroke-width="0.28" textLength="59.2" lengthAdjust="spacingAndGlyphs">13-01-22</text>
<text transform="translate(1254.0,557.2) rotate(-90)" font-size="10" fill="#111" stroke="#fff" stroke-width="0.28" textLength="59.2" lengthAdjust="spacingAndGlyphs">20-01-22</text>
<text transform="translate(1270.7,557.2) rotate(-90)" font-size="10" fill="#111" stroke="#fff" stroke-width="0.28" textLength="59.2" lengthAdjust="spacingAndGlyphs">27-01-22</text>
<text transform="translate(1287.5,557.2) rotate(-90)" font-size="10" fill="#111" stroke="#fff" stroke-width="0.28" textLength="59.2" lengthAdjust="spacingAndGlyphs">03-02-22</text>
<text transform="translate(1304.2,557.2) rotate(-90)" font-size="10" fill="#111" stroke="#fff" stroke-width="0.28" textLength="59.2" lengthAdjust="spacingAndGlyphs">10-02-22</text>
<text transform="translate(1320.9,557.2) rotate(-90)" font-size="10" fill="#111" stroke="#fff" stroke-width="0.28" textLength="59.2" lengthAdjust="spacingAndGlyphs">17-02-22</text>
<text transform="translate(1337.6,557.2) rotate(-90)" font-size="10" fill="#111" stroke="#fff" stroke-width="0.28" textLength="59.2" lengthAdjust="spacingAndGlyphs">24-02-22</text>
<text transform="translate(1354.4,557.2) rotate(-90)" font-size="10" fill="#111" stroke="#fff" stroke-width="0.28" textLength="59.2" lengthAdjust="spacingAndGlyphs">03-03-22</text>
<text transform="translate(1371.1,557.2) rotate(-90)" font-size="10" fill="#111" stroke="#fff" stroke-width="0.28" textLength="59.2" lengthAdjust="spacingAndGlyphs">10-03-22</text>
<text transform="translate(1387.8,557.2) rotate(-90)" font-size="10" fill="#111" stroke="#fff" stroke-width="0.28" textLength="59.2" lengthAdjust="spacingAndGlyphs">17-03-22</text>
<text transform="translate(1404.6,557.2) rotate(-90)" font-size="10" fill="#111" stroke="#fff" stroke-width="0.28" textLength="59.2" lengthAdjust="spacingAndGlyphs">24-03-22</text>
<text transform="translate(1421.3,557.2) rotate(-90)" font-size="10" fill="#111" stroke="#fff" stroke-width="0.28" textLength="59.2" lengthAdjust="spacingAndGlyphs">31-03-22</text>
<text transform="translate(1438.0,557.2) rotate(-90)" font-size="10" fill="#111" stroke="#fff" stroke-width="0.28" textLength="59.2" lengthAdjust="spacingAndGlyphs">07-04-22</text>
<text transform="translate(1454.7,557.2) rotate(-90)" font-size="10" fill="#111" stroke="#fff" stroke-width="0.28" textLength="59.2" lengthAdjust="spacingAndGlyphs">14-04-22</text>
<text transform="translate(14.2,407.3) rotate(-90)" font-size="12.4" fill="#111" stroke="#fff" stroke-width="0.3" textLength="277.5" lengthAdjust="spacingAndGlyphs">Ρυθμός μεταβολής κρουσμάτων</text>
<text transform="translate(1533.3,378.6) rotate(-90)" font-size="12.6" fill="#111" stroke="#fff" stroke-width="0.3" textLength="217" lengthAdjust="spacingAndGlyphs">Κρούσματα ανά 100.000</text>
<rect x="33.5" y="33.5" width="20.2" height="10.6" fill="#a5a5a5"/>
<text x="56.6" y="45.8" font-size="21" fill="#1c1c1c" stroke="#fff" stroke-width="0.3" textLength="331.1" lengthAdjust="spacingAndGlyphs">Κρούσματα ανά 100.000 (Κυλιόμενος μέσος όρος 7 ημερών)</text>
<line x1="399.9" x2="408.5" y1="38.9" y2="38.9" stroke="#e0171d" stroke-width="3"/>
<line x1="416.8" x2="422" y1="38.9" y2="38.9" stroke="#e0171d" stroke-width="3"/>
<text x="423" y="45.8" font-size="21" fill="#1c1c1c" stroke="#fff" stroke-width="0.3" textLength="198.0" lengthAdjust="spacingAndGlyphs">Όριο μετάβασης σε κόκκινη περιοχή</text>
<line x1="633" x2="654.2" y1="38.9" y2="38.9" stroke="#3a528f" stroke-width="1.35"/>
<text x="656.5" y="45.8" font-size="21" fill="#1c1c1c" stroke="#fff" stroke-width="0.3" textLength="360.1" lengthAdjust="spacingAndGlyphs">Ρυθμός μεταβολής κρουσμάτων μοντέλου (7days moving average)</text>
<line x1="1029.1" x2="1050.3" y1="38.9" y2="38.9" stroke="#d2884a" stroke-width="1.35"/>
<text x="1052.8" y="45.8" font-size="21" fill="#1c1c1c" stroke="#fff" stroke-width="0.3" textLength="398.9" lengthAdjust="spacingAndGlyphs">Ρυθμός μεταβολής επιβεβαιωμένων κρουσμάτων (7days moving average)</text>
<rect x="0.5" y="0.5" width="1556" height="578" fill="none" stroke="#7a7a7a" stroke-width="1"/>
<line x1="1556" x2="1556" y1="0" y2="579" stroke="#7f7f7f" stroke-width="1.7"/>
<line x1="0" x2="1557" y1="578.4" y2="578.4" stroke="#7f7f7f" stroke-width="1.2"/>
</svg>
</body></html>
